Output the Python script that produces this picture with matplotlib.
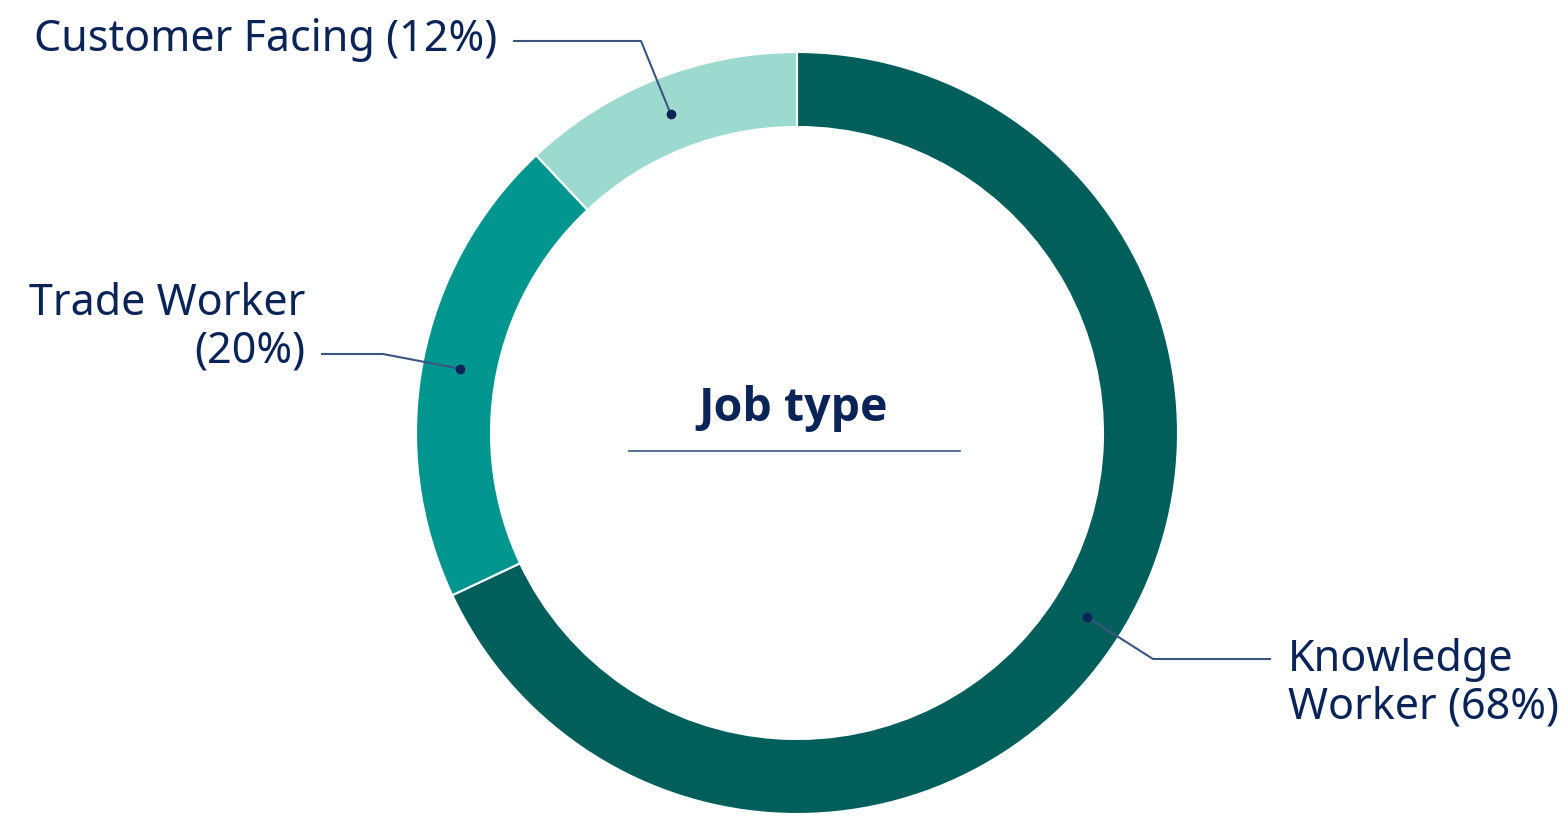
import numpy as np
import matplotlib.pyplot as plt

# Data
categories = ["Knowledge Worker", "Trade Worker", "Customer Facing"]
shares = [68, 20, 12]
labels = ["Knowledge\nWorker (68%)", "Trade Worker\n(20%)", "Customer Facing (12%)"]
colors = ["#005f5b", "#00958f", "#9cdad0"]

navy = "#0b2457"
line_col = "#3a5580"

W, H = 1568, 824
fig = plt.figure(figsize=(W / 100, H / 100), dpi=100)
ax = fig.add_axes([0, 0, 1, 1])

cx, cy = 797, H - 433
r_out, ring = 381, 75

wedges, _ = ax.pie(shares, colors=colors, startangle=90, counterclock=False,
                   radius=r_out, center=(cx, cy), frame=True,
                   wedgeprops=dict(width=ring, edgecolor="white", linewidth=1.5))
ax.set_xlim(0, W)
ax.set_ylim(0, H)
ax.set_aspect("equal")
ax.axis("off")

# centre title
ax.text(cx - 4, H - 408, "Job type", ha="center", va="center", fontsize=33.5,
        fontweight="bold", color=navy, family="Open Sans")
ax.plot([629, 960], [H - 451, H - 451], color="#4a6590", lw=1.3)

# label layout: (elbow, line end, text pos, ha)
layout = [
    ((1153, 659), (1270, 659), (1288, 684), "left"),
    ((383, 354), (322, 354), (305, 328), "right"),
    ((641, 41), (514, 41), (34, 40), "left"),
]

r_mid = r_out - ring / 2
for w, lab, (elb, end, tpos, ha) in zip(wedges, labels, layout):
    mid = np.deg2rad((w.theta1 + w.theta2) / 2)
    px, py = cx + r_mid * np.cos(mid), cy + r_mid * np.sin(mid)
    ax.plot([px, elb[0], end[0]], [py, H - elb[1], H - end[1]], color=line_col, lw=1.5)
    ax.plot(px, py, "o", ms=6, color=navy)
    ax.text(tpos[0], H - tpos[1], lab, ha=ha, va="center", fontsize=31,
            color=navy, family="Noto Sans", linespacing=1.12,
            multialignment=ha)

fig.savefig("out.png", dpi=100)
